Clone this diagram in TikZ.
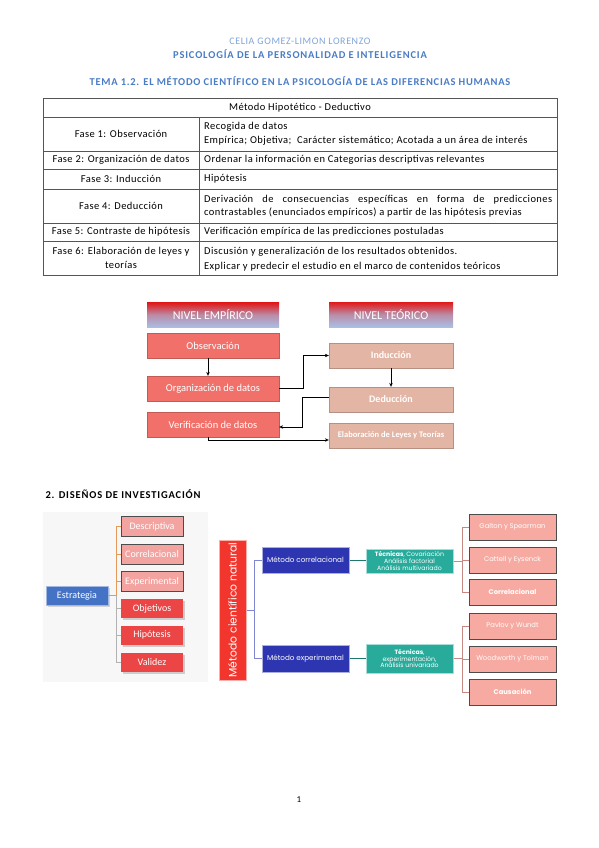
\documentclass[tikz,border=0pt]{standalone}
\usepackage{fontspec}
\setmainfont{Carlito}
\newfontfamily\gothicfont{Poppins}
\newfontfamily\tablefont{Carlito}[LetterSpace=4]
\usetikzlibrary{arrows.meta, positioning, shadows}
\definecolor{HeadBlue}{HTML}{4A7CC6}
\definecolor{LightHeadBlue}{HTML}{7FA3D9}
\definecolor{RuleGray}{HTML}{555555}
\definecolor{EmpRed}{HTML}{F2706A}
\definecolor{TeoTan}{HTML}{E3B5A4}
\definecolor{StratBlue}{HTML}{4472C4}
\definecolor{PaleRed}{HTML}{F3A3A0}
\definecolor{StrongRed}{HTML}{EC4545}
\definecolor{MethodRed}{HTML}{F2362E}
\definecolor{RoyalBlue}{HTML}{2D36B0}
\definecolor{TechTeal}{HTML}{29AB9C}
\definecolor{AuthorPink}{HTML}{F6AAA2}
\definecolor{TreeOrange}{HTML}{E59A5C}
\definecolor{LevelRed}{HTML}{E01818}
\definecolor{LevelBlue}{HTML}{A9BFE6}

\begin{document}
\begin{tikzpicture}[x=1pt, y=-1pt,
    cell/.style={inner sep=0pt, font=\tablefont\fontsize{10.5}{14}\selectfont},
    levelbox/.style={minimum width=132pt, minimum height=25pt, inner sep=0pt,
      top color=LevelRed, bottom color=LevelBlue, middle color=LevelBlue!70!LevelRed,
      text=white, font=\fontsize{12}{14}\selectfont},
    empbox/.style={fill=EmpRed, draw=EmpRed!80!black, line width=0.3pt,
      minimum width=132pt, minimum height=25pt, inner sep=0pt,
      text=white, font=\fontsize{10.5}{12}\selectfont},
    teobox/.style={fill=TeoTan, draw=TeoTan!80!black, line width=0.3pt,
      minimum width=124pt, minimum height=25pt, inner sep=0pt,
      text=white, font=\bfseries\fontsize{10}{12}\selectfont},
    link/.style={-{Stealth[length=4pt, width=3.5pt]}, line width=0.8pt},
    palebox/.style={fill=PaleRed, draw=gray!60!black, line width=0.4pt,
      minimum width=62pt, minimum height=20pt, inner sep=0pt,
      text=white, font=\fontsize{10}{12}\selectfont},
    redbox/.style={fill=StrongRed, minimum width=62pt, minimum height=19pt, inner sep=0pt,
      drop shadow={shadow xshift=2pt, shadow yshift=-2pt, opacity=0.35},
      text=white, font=\fontsize{10}{12}\selectfont},
    methodbox/.style={fill=RoyalBlue, draw=RoyalBlue!40, line width=1pt,
      minimum width=87pt, minimum height=26pt, inner sep=0pt,
      text=white, font=\gothicfont\fontsize{7.2}{8}\selectfont},
    techbox/.style={fill=TechTeal, draw=TechTeal!40, line width=1pt,
      minimum width=87pt, inner sep=1pt, align=center,
      text=white, font=\gothicfont\fontsize{6.2}{6.9}\selectfont},
    authorbox/.style={fill=AuthorPink, draw=gray!60!black, line width=0.5pt,
      minimum width=87pt, minimum height=26pt, inner sep=0pt,
      text=white, font=\gothicfont\fontsize{6.8}{8}\selectfont}
  ]
  \useasboundingbox (0,0) rectangle (599,848);

  % Header
  \node[LightHeadBlue, font=\fontsize{10}{12}\selectfont\addfontfeature{LetterSpace=6}] (author) at (300,41) {CELIA GOMEZ-LIMON LORENZO};
  \node[HeadBlue, font=\bfseries\fontsize{10.5}{12}\selectfont\addfontfeature{LetterSpace=8}] (subject) at (300,54) {PSICOLOGÍA DE LA PERSONALIDAD E INTELIGENCIA};
  \node[HeadBlue, font=\bfseries\fontsize{10.5}{12}\selectfont\addfontfeature{LetterSpace=7}] (topic) at (300,81) {TEMA 1.2. EL MÉTODO CIENTÍFICO EN LA PSICOLOGÍA DE LAS DIFERENCIAS HUMANAS};

  % Table of phases
  \draw[RuleGray, line width=0.6pt] (43,98) rectangle (557,275);
  \foreach \yy in {117,151,169,189,223,241}
    \draw[RuleGray, line width=0.6pt] (43,\yy) -- (557,\yy);
  \draw[RuleGray, line width=0.6pt] (199,117) -- (199,275);

  \node[cell] (title) at (300,107.5) {Método Hipotético - Deductivo};
  \node[cell] (f1) at (121,134) {Fase 1: Observación};
  \node[cell] (f2) at (121,160) {Fase 2: Organización de datos};
  \node[cell] (f3) at (121,179) {Fase 3: Inducción};
  \node[cell] (f4) at (121,206) {Fase 4: Deducción};
  \node[cell] (f5) at (121,232) {Fase 5: Contraste de hipótesis};
  \node[cell, align=center] (f6) at (121,258) {Fase 6: Elaboración de leyes y\\teorías};

  \node[cell, anchor=west, align=left] (d1) at (204,134) {Recogida de datos\\Empírica; Objetiva;\ \ Carácter sistemático; Acotada a un área de interés};
  \node[cell, anchor=west] (d2) at (204,160) {Ordenar la información en Categorias descriptivas relevantes};
  \node[cell, anchor=west] (d3) at (204,179) {Hipótesis};
  \node[cell, anchor=west, text width=348pt, align=justify,
    font=\tablefont\fontsize{10.5}{13}\selectfont] (d4) at (204,206)
    {Derivación de consecuencias específicas en forma de predicciones\linebreak contrastables (enunciados empíricos) a partir de las hipótesis previas};
  \node[cell, anchor=west] (d5) at (204,232) {Verificación empírica de las predicciones postuladas};
  \node[cell, anchor=west, align=left, font=\tablefont\fontsize{10.5}{15}\selectfont] (d6) at (204,259.5) {Discusión y generalización de los resultados obtenidos.\\Explicar y predecir el estudio en el marco de contenidos teóricos};

  % Empirical and theoretical levels
  \node[levelbox] (empirico) at (213,315) {NIVEL EMPÍRICO};
  \node[levelbox, minimum width=124pt] (teorico) at (391,314.5) {NIVEL TEÓRICO};
  \node[empbox] (obs) at (213,345.5) {Observación};
  \node[empbox] (org) at (213,388.5) {Organización de datos};
  \node[empbox] (ver) at (213,424.5) {Verificación de datos};
  \node[teobox] (ind) at (391,355.5) {Inducción};
  \node[teobox] (ded) at (391,399.5) {Deducción};
  \node[teobox, font=\bfseries\fontsize{8.5}{10}\selectfont] (ela) at (391,435.5) {Elaboración de Leyes y Teorías};

  \draw[link] ([xshift=-5pt]obs.south) -- ([xshift=-5pt]org.north);
  \draw[link] (org.east) -- ++(24,0) |- (ind.west);
  \draw[link] (ind.south) -- (ded.north);
  \draw[link] ([yshift=2pt]ded.west) -- ++(-26,0) |- ([yshift=-2.5pt]ver.east);
  \draw[link] ([xshift=-5pt]ver.south) |- ([yshift=-4.5pt]ela.west);

  % Research designs
  \node[anchor=west, font=\bfseries\fontsize{10.5}{12}\selectfont\addfontfeature{LetterSpace=8}] (designs) at (42,494) {2. DISEÑOS DE INVESTIGACIÓN};

  \fill[gray!6] (43,512) rectangle (208,682);
  \node[fill=StratBlue, draw=StratBlue!50, line width=0.8pt, minimum width=62pt, minimum height=19pt,
    inner sep=0pt, text=white, font=\fontsize{10}{12}\selectfont,
    drop shadow={shadow xshift=2pt, shadow yshift=-2pt, opacity=0.3}] (strat) at (77,595.5) {Estrategia};
  \node[palebox] (desc) at (152,526.5) {Descriptiva};
  \node[palebox] (corr) at (152,554) {Correlacional};
  \node[palebox] (expe) at (152,581.5) {Experimental};
  \node[redbox] (obj) at (152,608.5) {Objetivos};
  \node[redbox] (hip) at (152,635) {Hipótesis};
  \node[redbox] (val) at (152,662) {Validez};

  \coordinate (stratfork) at (116,595.5);
  \draw[TreeOrange, line width=0.6pt] (strat.east) -- (stratfork);
  \draw[TreeOrange, line width=0.6pt] (stratfork |- desc.west) -- (stratfork);
  \draw[gray!60, line width=0.6pt] (stratfork) -- (stratfork |- val.west);
  \foreach \b in {desc, corr, expe}
    \draw[TreeOrange, line width=0.6pt] (stratfork |- \b.west) -- (\b.west);
  \foreach \b in {obj, hip, val}
    \draw[gray!60, line width=0.6pt] (stratfork |- \b.west) -- (\b.west);

  % Natural scientific method
  \node[fill=MethodRed, draw=MethodRed!40, line width=1pt, rotate=90,
    minimum width=140pt, minimum height=27pt, inner sep=0pt,
    text=white, font=\gothicfont\fontsize{10.8}{12}\selectfont] (natural) at (232.5,610) {Método científico natural};
  \node[methodbox] (mcorr) at (305.5,560) {Método correlacional};
  \node[methodbox, minimum height=27pt] (mexp) at (305.5,658.5) {Método experimental};
  \node[techbox, minimum height=24pt] (tcorr) at (409.5,561)
    {\textbf{Técnicas}, Covariación\\Análisis factorial\\Análisis multivariado};
  \node[techbox, minimum height=29pt] (texp) at (409.5,658.5)
    {\textbf{Técnicas},\\experimentación,\\Análisis univariado};

  \coordinate (natfork) at (254,610);
  \draw[RoyalBlue!60, line width=0.6pt] (natural.south) -- (natfork);
  \draw[RoyalBlue!60, line width=0.6pt] (natfork |- mcorr.west) -- (natfork |- mexp.west);
  \draw[RoyalBlue!60, line width=0.6pt] (natfork |- mcorr.west) -- (mcorr.west);
  \draw[RoyalBlue!60, line width=0.6pt] (natfork |- mexp.west) -- (mexp.west);
  \draw[TechTeal!70!black, line width=0.6pt] (mcorr.east) -- (tcorr.west |- mcorr.east);
  \draw[TechTeal!70!black, line width=0.6pt] (mexp.east) -- (texp.west);

  \node[authorbox] (galton) at (512.5,527) {Galton y Spearman};
  \node[authorbox] (cattell) at (512.5,560) {Cattell y Eysenck};
  \node[authorbox, font=\gothicfont\bfseries\fontsize{6.8}{8}\selectfont] (correl) at (512.5,592) {Correlacional};
  \node[authorbox] (pavlov) at (512.5,626) {Pavlov y Wundt};
  \node[authorbox] (woodworth) at (512.5,659) {Woodworth y Tolman};
  \node[authorbox, font=\gothicfont\bfseries\fontsize{6.8}{8}\selectfont] (causa) at (512.5,692) {Causación};

  \coordinate (corrfork) at (462,561);
  \coordinate (expfork) at (462,658.5);
  \draw[AuthorPink!80!black, line width=0.5pt] (tcorr.east) -- (corrfork);
  \draw[AuthorPink!80!black, line width=0.5pt] (corrfork |- galton.west) -- (corrfork |- correl.west);
  \foreach \b in {galton, cattell, correl}
    \draw[AuthorPink!80!black, line width=0.5pt] (corrfork |- \b.west) -- (\b.west);
  \draw[AuthorPink!80!black, line width=0.5pt] (texp.east) -- (expfork);
  \draw[AuthorPink!80!black, line width=0.5pt] (expfork |- pavlov.west) -- (expfork |- causa.west);
  \foreach \b in {pavlov, woodworth, causa}
    \draw[AuthorPink!80!black, line width=0.5pt] (expfork |- \b.west) -- (\b.west);

  % Page number
  \node[font=\fontsize{9}{11}\selectfont] (page) at (299,800) {1};
\end{tikzpicture}
\end{document}
